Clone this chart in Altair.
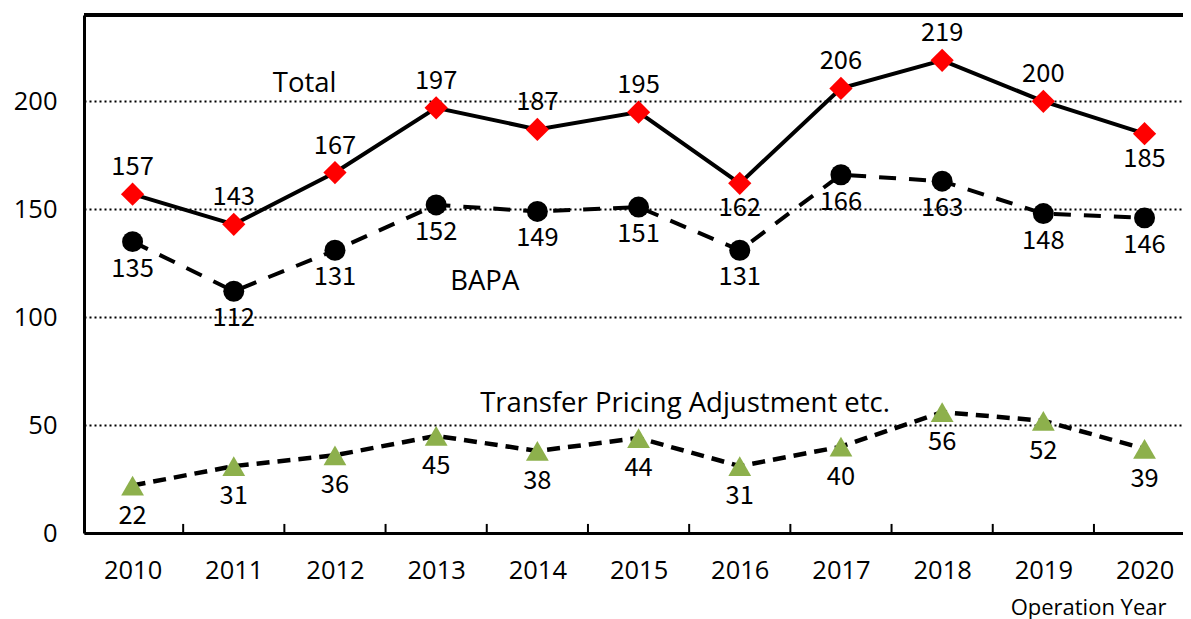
import altair as alt
import pandas as pd

years = [2010, 2011, 2012, 2013, 2014, 2015, 2016, 2017, 2018, 2019, 2020]
total = [157, 143, 167, 197, 187, 195, 162, 206, 219, 200, 185]
bapa = [135, 112, 131, 152, 149, 151, 131, 166, 163, 148, 146]
tpa = [22, 31, 36, 45, 38, 44, 31, 40, 56, 52, 39]
total_below = [2016, 2020]  # years whose Total label sits under the marker

ann_text = ["Total", "BAPA", "Transfer Pricing Adjustment etc."]
ann_x = [2011.70, 2013.48, 2015.46]
ann_y = [208, 116.3, 59.8]

FONT = "Noto Sans CJK JP"
AFONT = "Open Sans"
W, H = 1099, 518

df_total = pd.DataFrame({"year": years, "v": total})
df_total["below"] = df_total["year"].isin(total_below)
df_bapa = pd.DataFrame({"year": years, "v": bapa})
df_tpa = pd.DataFrame({"year": years, "v": tpa})
df_ann = pd.DataFrame({"t": ann_text, "x": ann_x, "y": ann_y})
df_ticks = pd.DataFrame({"b": [y + 0.5 for y in years[:-1]], "y0": 0, "y1": 4.2})

xs = alt.Scale(domain=[2009.52, 2020.38], nice=False, zero=False)
ys = alt.Scale(domain=[0, 240], nice=False)

xaxis = alt.Axis(values=years, format="d", ticks=False, grid=False, domain=True,
                 domainColor="black", domainWidth=3, labelFont=AFONT, labelFontSize=25.5,
                 labelColor="black", labelPadding=25, title="Operation Year",
                 titleFont=AFONT, titleFontSize=22, titleFontWeight="normal",
                 titleAlign="right", titleAnchor="start", titleX=1082, titleY=74,
                 titleBaseline="middle", titleColor="black")
yaxis = alt.Axis(values=[0, 50, 100, 150, 200], ticks=False, grid=True,
                 gridColor="black", gridDash=[2, 3], gridWidth=1.8, domain=True,
                 domainColor="black", domainWidth=3, labelFont=AFONT, labelFontSize=25.5,
                 labelColor="black", labelPadding=27, title=None)

X = alt.X("year:Q", scale=xs, axis=xaxis)
Y = alt.Y("v:Q", scale=ys, axis=yaxis)

# inner tick marks on the category boundaries
ticks = alt.Chart(df_ticks).mark_rule(color="black", strokeWidth=2).encode(
    x=alt.X("b:Q", scale=xs),
    y=alt.Y("y0:Q", scale=ys),
    y2="y1:Q",
)
# top border of the plot area
top = alt.Chart(df_ticks).mark_rule(color="black", strokeWidth=3).encode(
    y=alt.value(0)
)

base_t = alt.Chart(df_total).encode(x=X, y=Y)
base_b = alt.Chart(df_bapa).encode(x=X, y=Y)
base_p = alt.Chart(df_tpa).encode(x=X, y=Y)

line_t = base_t.mark_line(color="black", strokeWidth=4)
line_b = base_b.mark_line(color="black", strokeWidth=4, strokeDash=[17, 13])
line_p = base_p.mark_line(color="black", strokeWidth=4.5, strokeDash=[13, 8])

pt_t = base_t.mark_point(shape="diamond", filled=True, color="#FF0000", size=540, opacity=1)
pt_b = base_b.mark_point(shape="circle", filled=True, color="black", size=440, opacity=1)
pt_p = base_p.mark_point(shape="triangle-up", filled=True, color="#8DB04C", size=520, opacity=1)

tkw = dict(font=FONT, fontSize=25.5, color="black", baseline="middle", align="center")
lab_t_up = base_t.transform_filter("!datum.below").mark_text(dy=-27, **tkw).encode(text="v:Q")
lab_t_dn = base_t.transform_filter("datum.below").mark_text(dy=25, **tkw).encode(text="v:Q")
lab_b = base_b.mark_text(dy=27, **tkw).encode(text="v:Q")
lab_p = base_p.mark_text(dy=30, **tkw).encode(text="v:Q")

ann = alt.Chart(df_ann).mark_text(font=AFONT, fontSize=27.5, color="black",
                                  baseline="middle", align="center").encode(
    x=alt.X("x:Q", scale=xs), y=alt.Y("y:Q", scale=ys), text="t:N")

chart = alt.layer(
    line_p, line_b, line_t, pt_p, pt_b, pt_t,
    lab_t_up, lab_t_dn, lab_b, lab_p, ann, ticks, top,
).properties(
    width=W, height=H,
    autosize=alt.AutoSizeParams(type="none"),
    padding={"left": 76, "top": 7, "right": 0, "bottom": 86},
).configure_view(stroke=None).configure(background="white")

chart.save("out.html", embed_options={"renderer": "svg", "actions": False})
